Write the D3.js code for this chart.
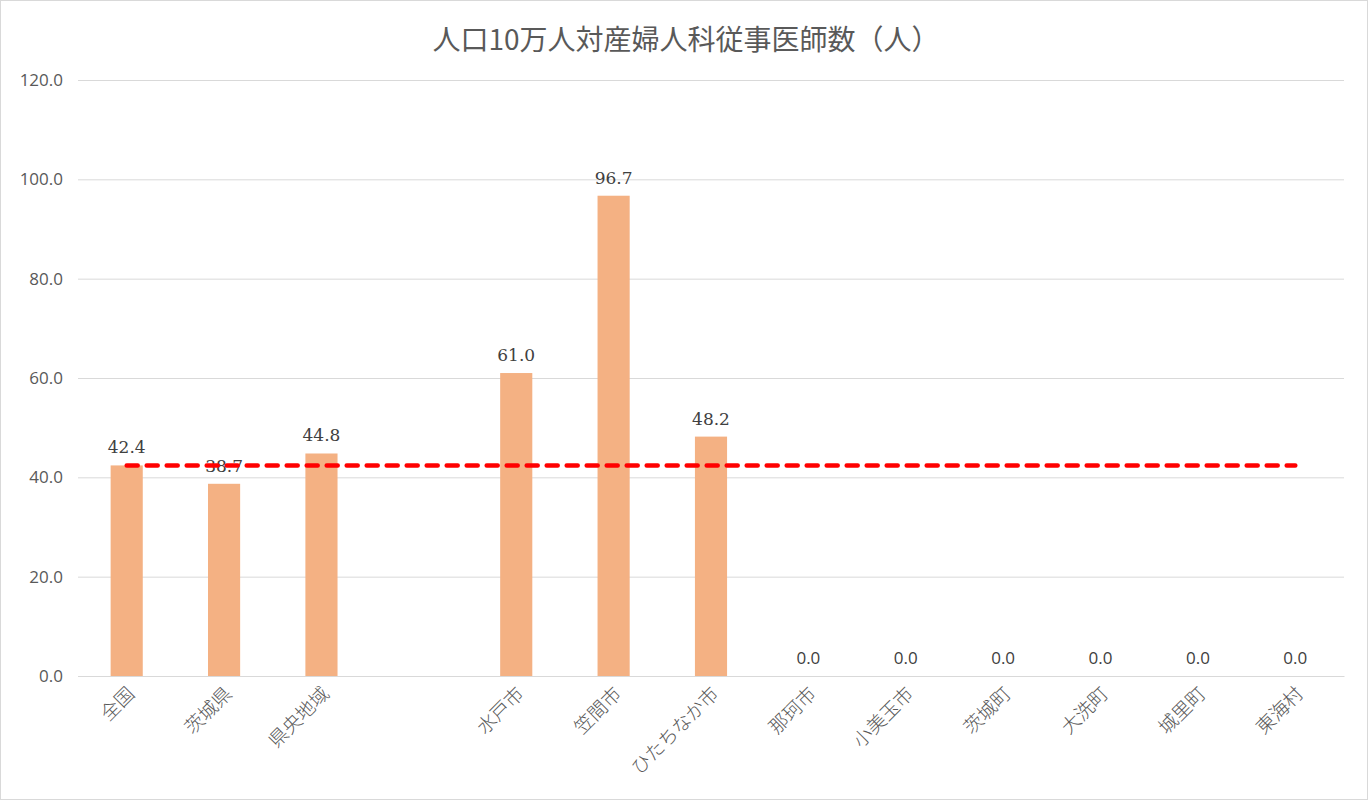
<!DOCTYPE html>
<html>
<head>
<meta charset="utf-8">
<script src="https://cdn.jsdelivr.net/npm/d3@7"></script>
<style>
  body { margin: 0; background: #fff; }
</style>
</head>
<body>
<div id="chart"></div>
<script>
  // Data
  const categories = ["全国", "茨城県", "県央地域", "", "水戸市", "笠間市", "ひたちなか市",
                      "那珂市", "小美玉市", "茨城町", "大洗町", "城里町", "東海村"];
  const values = [42.4, 38.7, 44.8, null, 61.0, 96.7, 48.2, 0, 0, 0, 0, 0, 0];
  const nationalAvg = 42.4;
  const yTicks = [0, 20, 40, 60, 80, 100, 120];

  let width = 1368;
  let height = 800;

  let paddingLeft = 78;
  let paddingRight = 24;
  let paddingTop = 80;
  let paddingBottom = 124;

  let plotWidth = width - paddingLeft - paddingRight;
  let plotHeight = height - paddingTop - paddingBottom;

  const serif = "'DejaVu Serif', 'Liberation Serif', serif";
  const sans = "'Open Sans', 'Noto Sans', sans-serif";
  const cjk = "'Noto Sans CJK JP', 'Noto Sans CJK SC', sans-serif";

  let svg = d3.select("#chart")
    .append("svg")
    .attr("width", width)
    .attr("height", height);

  // border
  svg.append("rect")
    .attr("x", 0.5).attr("y", 0.5)
    .attr("width", width - 1).attr("height", height - 1)
    .style("fill", "#fff")
    .style("stroke", "#d9d9d9");

  // Scales
  let x = d3.scaleBand()
    .domain(d3.range(categories.length))
    .range([0, plotWidth])
    .paddingInner(0.67)
    .paddingOuter(0.335);

  let y = d3.scaleLinear()
    .domain([0, 120])
    .range([plotHeight, 0]);

  let g = svg.append("g")
    .attr("transform", "translate(" + paddingLeft + ", " + paddingTop + ")");

  // Gridlines + y axis
  let yAxis = d3.axisLeft(y)
    .tickValues(yTicks)
    .tickFormat(d3.format(".1f"))
    .tickSize(-plotWidth)
    .tickPadding(15);

  let yg = g.append("g").call(yAxis);
  yg.select(".domain").remove();
  yg.selectAll("line").style("stroke", "#d9d9d9");
  yg.selectAll("text")
    .style("font-family", sans)
    .style("font-size", "17px")
    .style("fill", "#595959");

  // Bars
  g.selectAll("rect.bar")
    .data(values.map((v, i) => ({ v: v, i: i })).filter(d => d.v !== null))
    .enter().append("rect")
    .attr("class", "bar")
    .attr("x", d => x(d.i))
    .attr("width", x.bandwidth())
    .attr("y", d => y(d.v))
    .attr("height", d => plotHeight - y(d.v))
    .style("fill", "#F4B183");

  // Data labels
  g.selectAll("text.lbl")
    .data(values.map((v, i) => ({ v: v, i: i })).filter(d => d.v !== null))
    .enter().append("text")
    .attr("class", "lbl")
    .attr("x", d => x(d.i) + x.bandwidth() / 2)
    .attr("y", d => y(d.v) - 12)
    .attr("text-anchor", "middle")
    .style("font-family", d => d.v === 0 ? sans : serif)
    .style("font-size", "17px")
    .style("fill", "#404040")
    .text(d => d3.format(".1f")(d.v));

  // X axis
  let xAxis = d3.axisBottom(x)
    .tickFormat(i => categories[i])
    .tickSize(0)
    .tickPadding(0);

  let xg = g.append("g")
    .attr("transform", "translate(0," + plotHeight + ")")
    .call(xAxis);
  xg.select(".domain").style("stroke", "#d9d9d9");
  xg.selectAll("text")
    .attr("text-anchor", "end")
    .attr("dy", 0)
    .attr("transform", "translate(9,19) rotate(-45)")
    .style("font-family", cjk)
    .style("font-weight", 300)
    .style("font-size", "19px")
    .style("fill", "#595959");

  // National average line
  g.append("line")
    .attr("x1", x(0) + x.bandwidth() / 2)
    .attr("x2", x(categories.length - 1) + x.bandwidth() / 2)
    .attr("y1", y(nationalAvg))
    .attr("y2", y(nationalAvg))
    .style("stroke", "#ff0000")
    .style("stroke-width", 4.5)
    .style("stroke-linecap", "round")
    .style("stroke-dasharray", "11,9");

  // Title
  svg.append("text")
    .attr("x", width / 2 + 2)
    .attr("y", 50)
    .attr("text-anchor", "middle")
    .style("font-family", cjk)
    .style("font-size", "28px")
    .style("fill", "#595959")
    .text("人口10万人対産婦人科従事医師数（人）");
</script>
</body>
</html>
